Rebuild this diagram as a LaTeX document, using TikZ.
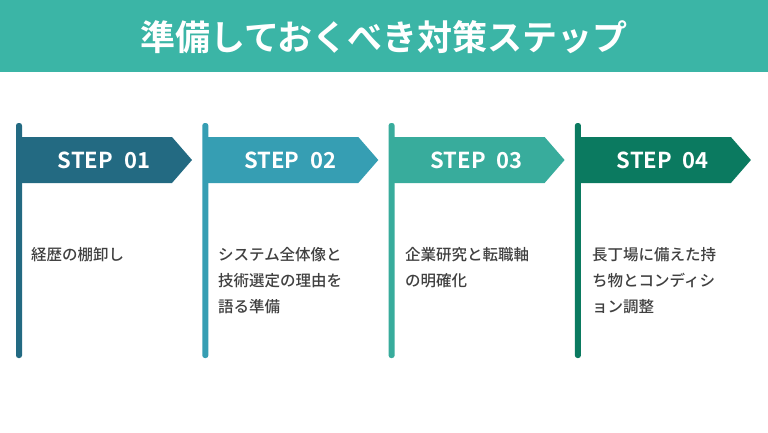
\documentclass[tikz,border=0pt]{standalone}
\usepackage{fontspec}
\setmainfont{Noto Sans CJK JP Medium}
\newfontfamily\jpb{Noto Sans CJK JP Bold}
\definecolor{titlec}{HTML}{3BB5A6}
\definecolor{cA}{HTML}{236A82}
\definecolor{cB}{HTML}{369EB3}
\definecolor{cC}{HTML}{38AC9C}
\definecolor{cD}{HTML}{0B7A60}
\definecolor{txt}{HTML}{404040}
\tikzset{
 steplbl/.style={text=white,font=\jpb\fontsize{22}{22}\selectfont,anchor=center},
 body/.style={text=txt,font=\fontsize{15.5}{26}\selectfont,anchor=north west,align=left,inner sep=0pt}
}
\begin{document}
\begin{tikzpicture}[x=1pt,y=-1pt]
\useasboundingbox (0,0) rectangle (768,432);
\fill[white] (0,0) rectangle (768,432);
\fill[titlec] (0,0) rectangle (768,72);
\node[text=white,font=\jpb\fontsize{35}{35}\selectfont] (title) at (384,37) {準備しておくべき対策ステップ};
\foreach \i/\c/\t/\n in {0/cA/01/a,1/cB/02/b,2/cC/03/c,3/cD/04/d}{
  \pgfmathsetmacro\xo{16+186.3*\i}
  \fill[\c, rounded corners=2.5] (\xo,123) rectangle ++(6,235);
  \fill[\c] (\xo+5,137) -- (\xo+156,137) -- (\xo+176,160) -- (\xo+156,183) -- (\xo+5,183) -- cycle;
  \node[steplbl] (s\n) at (\xo+88,160) {STEP\hspace{0.5em}\t};
}
\node[body] (t1) at (31,247) {経歴の棚卸し};
\node[body] (t2) at (218,247) {システム全体像と\\技術選定の理由を\\語る準備};
\node[body] (t3) at (405,247) {企業研究と転職軸\\の明確化};
\node[body] (t4) at (592,247) {長丁場に備えた持\\ち物とコンディシ\\ョン調整};
\end{tikzpicture}
\end{document}
